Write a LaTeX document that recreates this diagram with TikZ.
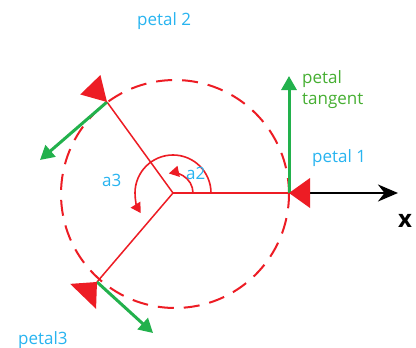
\documentclass[tikz,border=0pt]{standalone}
\usepackage{fontspec}
\setmainfont{Open Sans}
\usetikzlibrary{arrows.meta}
\definecolor{pred}{RGB}{237,28,36}
\definecolor{pgreen}{RGB}{34,177,76}
\definecolor{pcyan}{RGB}{40,180,240}
\definecolor{tgreen}{RGB}{70,175,50}
\begin{document}
\begin{tikzpicture}[x=1pt,y=-1pt,
  lbl/.style={font=\fontsize{17}{20}\selectfont, inner sep=0pt, anchor=base west},
  radial/.style={pred, line width=1.5pt},
  tangent/.style={pgreen, line width=3pt, -{Triangle[length=14pt,width=15pt]}},
  anglearc/.style={pred, line width=1.6pt, -{Triangle[length=10pt,width=11pt]}},
  petalhead/.style={pred}]
\useasboundingbox (0,0) rectangle (416,348);
\fill[white] (0,0) rectangle (416,348);
\coordinate (C) at (173,193);
\coordinate (P1) at (289,193);
\coordinate (P2) at (107,102);
\coordinate (P3) at (97,282);
\coordinate (T1) at (289,76);
\coordinate (T2) at (40,160);
\coordinate (T3) at (153,333);
\coordinate (XS) at (308,193);
\coordinate (XE) at (398,193);
% dashed circle
\draw[pred, line width=2pt, dash pattern=on 16pt off 10pt] (175,194) circle[radius=114pt];
% radial lines
\draw[radial] (C) -- (P1);
\draw[radial] (C) -- (P2);
\draw[radial] (C) -- (P3);
% angle arcs
\draw[anglearc] (193,193) arc[start angle=0, end angle=102, radius=20pt];
\draw[anglearc] (211,193) arc[start angle=0, end angle=212, radius=38pt];
% x axis
\draw[black, line width=2.5pt, -{Stealth[length=20pt,width=17pt]}] (XS) -- (XE);
% tangents
\draw[tangent] (P1) -- (T1);
\draw[tangent] (P2) -- (T2);
\draw[tangent] (P3) -- (T3);
% red petal triangles
\fill[petalhead, shift={(P1)}, rotate=0] (0,0) -- (21,-15) -- (21,15) -- cycle;
\fill[petalhead, shift={(P2)}, rotate=134] (0,0) -- (24,-14) -- (24,14) -- cycle;
\fill[petalhead, shift={(P3)}, rotate=226] (0,0) -- (20,-18) -- (20,18) -- cycle;
% labels
\node[lbl, pcyan] (l2) at (137,25) {petal 2};
\node[lbl, pcyan] (l1) at (312,162) {petal 1};
\node[lbl, pcyan] (l3) at (18,344) {petal3};
\node[lbl, pcyan] (la2) at (186,179) {a2};
\node[lbl, pcyan] (la3) at (102,186) {a3};
\node[lbl, tgreen] (lt1) at (302,83) {petal};
\node[lbl, tgreen] (lt2) at (302,104) {tangent};
\node[font=\fontsize{24}{26}\selectfont\bfseries, inner sep=0pt] (lx) at (405,221) {x};
\end{tikzpicture}
\end{document}
